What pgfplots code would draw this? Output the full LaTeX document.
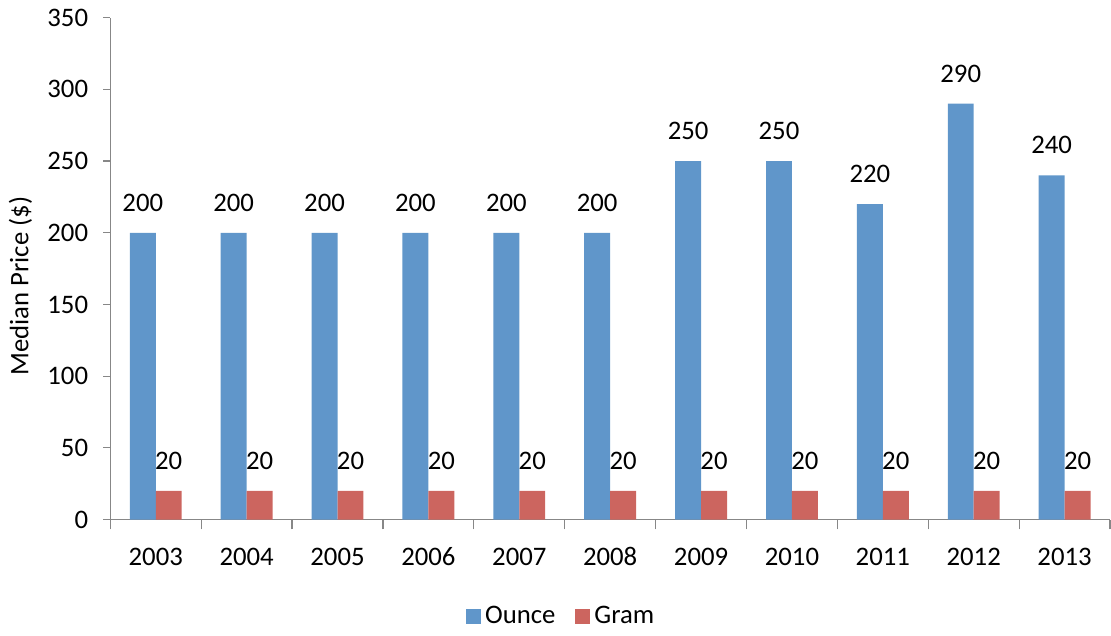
\documentclass[border=0pt]{standalone}
\usepackage{pgfplots}
\pgfplotsset{compat=1.18}
\usepackage{fontspec}
\setmainfont{Carlito}
\definecolor{ounce}{HTML}{6096CA}
\definecolor{gram}{HTML}{CC655F}
\definecolor{axgray}{HTML}{878787}
\newcommand{\cf}{\fontsize{13.4}{16}\selectfont}
\begin{document}
\cf
\begin{tikzpicture}
\begin{axis}[
  scale only axis,
  width=501pt, height=251.5pt,
  ybar=0pt, bar width=13pt,
  xmin=-0.5, xmax=10.5,
  ymin=0, ymax=350,
  ytick={0,50,...,350},
  xtick={0,...,10},
  xticklabels={2003,2004,2005,2006,2007,2008,2009,2010,2011,2012,2013},
  minor xtick={-0.5,0.5,...,10.5},
  major x tick style={draw=none},
  minor tick length=5pt,
  major tick length=3.5pt,
  tick align=outside,
  tick style={axgray, line width=0.6pt},
  axis x line*=bottom, axis y line*=left,
  axis line style={axgray, line width=0.6pt, -},
  /pgf/number format/assume math mode=true,
  ticklabel style={font=\cf},
  yticklabel style={xshift=-3pt},
  xticklabel style={yshift=-6pt, text height=9pt, text depth=0pt},
  ylabel={Median Price (\$)},
  every axis y label/.style={at={(rel axis cs:0,0.465)}, xshift=-45pt, rotate=90, anchor=center, font=\cf},
  nodes near coords,
  every node near coord/.append style={anchor=south, inner sep=0pt, yshift=10.5pt, black, font=\cf},
  legend columns=2,
  legend style={draw=none, at={(rel axis cs:0.452,-0.193)}, anchor=center, font=\cf, /tikz/every even column/.append style={column sep=8pt}},
  legend image code/.code={\fill[#1] (0pt,-3.75pt) rectangle (7.5pt,3.75pt);},
  clip=false,
]
\addplot[fill=ounce, draw=none] coordinates {(0,200) (1,200) (2,200) (3,200) (4,200) (5,200) (6,250) (7,250) (8,220) (9,290) (10,240)};
\addplot[fill=gram, draw=none] coordinates {(0,20) (1,20) (2,20) (3,20) (4,20) (5,20) (6,20) (7,20) (8,20) (9,20) (10,20)};
\legend{Ounce,Gram}
\path[draw=none] (rel axis cs:0,0) ++(-54pt,-56pt) rectangle (rel axis cs:1,1);
\path[draw=none] (rel axis cs:1,1) ++(0.5pt,7.5pt) circle (0pt);
\end{axis}
\end{tikzpicture}
\end{document}
